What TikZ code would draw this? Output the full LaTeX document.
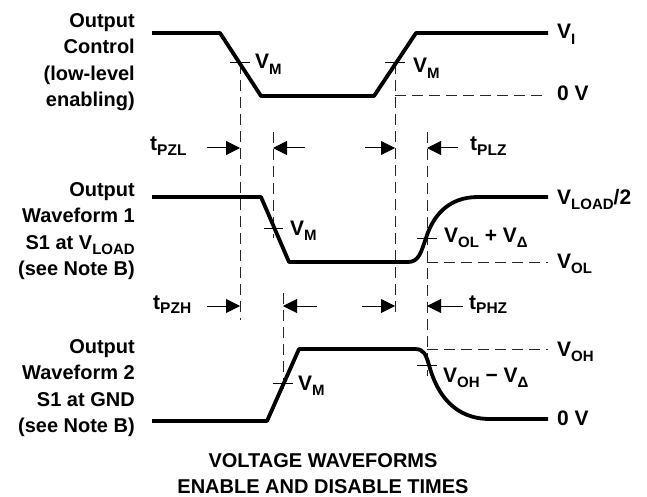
\documentclass[tikz,border=0pt]{standalone}
\usepackage{fontspec}
\setmainfont{Liberation Sans}
\usetikzlibrary{arrows.meta, calc, positioning}

\newcommand{\lowsub}[1]{\raisebox{-0.25em}{\fontsize{15}{15}\selectfont #1}}
\newcommand{\tsub}[1]{\raisebox{-0.2em}{\fontsize{15.5}{15.5}\selectfont #1}}

\begin{document}
\begin{tikzpicture}[x=1pt, y=-1pt,
		wave/.style={line width=3.8pt, line join=round},
		guide/.style={line width=1pt, black!85, dash pattern=on 11pt off 6pt},
		vtick/.style={line width=1pt},
		timing/.style={line width=1pt, -{Triangle[length=14pt,width=14pt]}},
		txt/.style={font=\fontsize{20}{26.5}\selectfont\bfseries, inner sep=0pt},
		sig/.style={txt, align=right, anchor=north east},
		lvl/.style={txt, font=\fontsize{21}{26.5}\selectfont\bfseries, anchor=base west}]
	
	\useasboundingbox (0,0) rectangle (647,497);
	
	% signal names
	\node[sig] (ctrl) at (135,13) {Output\\Control\\(low-level\\enabling)};
	\node[sig] (wfa) at (135,182) {Output\\Waveform 1\\S1 at V\lowsub{LOAD}\\(see Note B)};
	\node[sig] (wfb) at (135,339) {Output\\Waveform 2\\S1 at GND\\(see Note B)};
	
	% guides
	\draw[guide] (240,63) -- (240,320);
	\draw[guide] (273,132) -- (273,238);
	\draw[guide] (283,293) -- (283,393);
	\draw[guide] (395,63) -- (395,318);
	\draw[guide] (427,132) -- (427,376);
	\draw[guide] (395,96) -- (548,96);
	\draw[guide] (427,262) -- (548,262);
	\draw[guide] (427,349) -- (548,349);
	
	% waveforms
	\draw[wave] (152,33) -- (220,33) -- (261,96) -- (374,96) -- (416,33) -- (548,33);
	\draw[wave] (152,197) -- (261,197) -- (289,262) -- (408,262)
		.. controls (419,262) and (421,252) .. (426,238)
		.. controls (433,216) and (448,197) .. (478,197) -- (548,197);
	\draw[wave] (152,421) -- (267,421) -- (299,349) -- (415,349)
		.. controls (424,349) and (426,355) .. (429,365)
		.. controls (437,395) and (455,419) .. (490,419) -- (548,419);
	
	% ticks
	\draw[vtick] (230,63) -- (250,63);
	\draw[vtick] (385,63) -- (405,63);
	\draw[vtick] (264,228) -- (283,228);
	\draw[vtick] (417,238) -- (437,238);
	\draw[vtick] (273,383) -- (293,383);
	\draw[vtick] (417,365) -- (437,365);
	
	% levels
	\node[lvl] (vi) at (557,39) {V\lowsub{I}};
	\node[lvl] (zeroa) at (557,101) {0 V};
	\node[lvl] (vload) at (557,204) {V\lowsub{LOAD}/2};
	\node[lvl] (vol) at (557,268) {V\lowsub{OL}};
	\node[lvl] (voh) at (557,356) {V\lowsub{OH}};
	\node[lvl] (zerob) at (557,425) {0 V};
	
	\node[lvl] (vma) at (255,69) {V\lowsub{M}};
	\node[lvl] (vmb) at (413,73) {V\lowsub{M}};
	\node[lvl] (vmc) at (290,235) {V\lowsub{M}};
	\node[lvl] (vmd) at (298,390) {V\lowsub{M}};
	\node[lvl] (volup) at (444,242) {V\lowsub{OL} + V\lowsub{Δ}};
	\node[lvl] (vohdn) at (443,382) {V\lowsub{OH} − V\lowsub{Δ}};
	
	% timing arrows
	\coordinate (pzla) at (207,148); \coordinate (pzlb) at (240,148);
	\coordinate (pzlc) at (305,148); \coordinate (pzld) at (273,148);
	\coordinate (plza) at (365,148); \coordinate (plzb) at (395,148);
	\coordinate (plzc) at (458,148); \coordinate (plzd) at (427,148);
	\coordinate (pzha) at (207,306); \coordinate (pzhb) at (240,306);
	\coordinate (pzhc) at (317,306); \coordinate (pzhd) at (283,306);
	\coordinate (phza) at (362,306); \coordinate (phzb) at (395,306);
	\coordinate (phzc) at (463,306); \coordinate (phzd) at (427,306);
	
	\draw[timing] (pzla) -- (pzlb);
	\draw[timing] (pzlc) -- (pzld);
	\draw[timing] (plza) -- (plzb);
	\draw[timing] (plzc) -- (plzd);
	\draw[timing] (pzha) -- (pzhb);
	\draw[timing] (pzhc) -- (pzhd);
	\draw[timing] (phza) -- (phzb);
	\draw[timing] (phzc) -- (phzd);
	
	\node[lvl] (tpzl) at (150,151) {t\tsub{PZL}};
	\node[lvl] (tplz) at (470,151) {t\tsub{PLZ}};
	\node[lvl] (tpzh) at (153,309) {t\tsub{PZH}};
	\node[lvl] (tphz) at (469,309) {t\tsub{PHZ}};
	
	% caption
	\node[txt, align=center, anchor=north] (title) at (323,453) {VOLTAGE WAVEFORMS\\ENABLE AND DISABLE TIMES};
	
\end{tikzpicture}
\end{document}
